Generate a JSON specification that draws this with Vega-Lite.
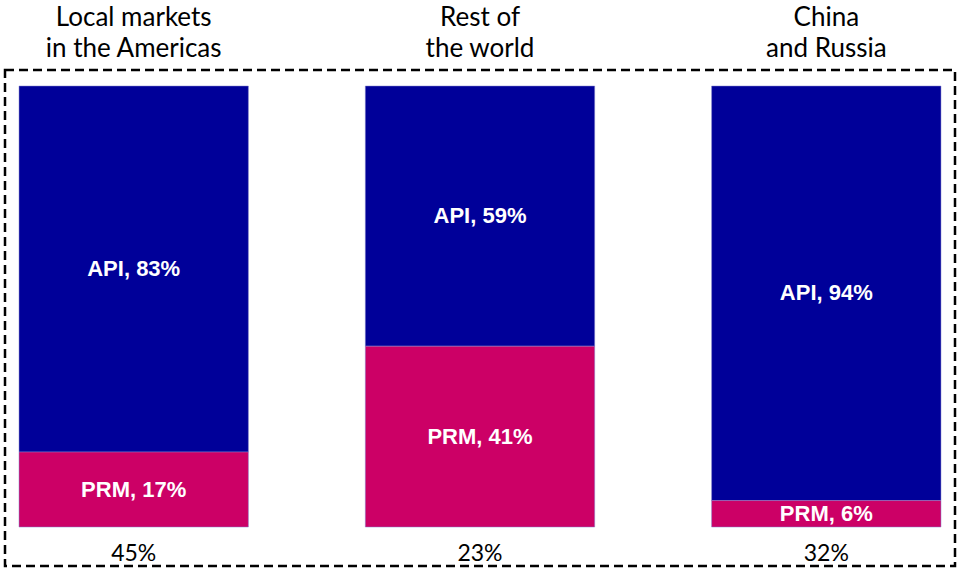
{
  "$schema": "https://vega.github.io/schema/vega-lite/v6.json",
  "width": 950,
  "height": 496,
  "autosize": {"type": "none"},
  "padding": {"left": 5, "top": 70, "right": 2, "bottom": 3},
  "background": "white",
  "config": {
    "view": {"stroke": "black", "strokeWidth": 2.5, "strokeDash": [9, 5]}
  },
  "datasets": {
    "segments": [
      {"region": "Local markets in the Americas", "type": "API", "value": 83},
      {"region": "Local markets in the Americas", "type": "PRM", "value": 17},
      {"region": "Rest of the world", "type": "API", "value": 59},
      {"region": "Rest of the world", "type": "PRM", "value": 41},
      {"region": "China and Russia", "type": "API", "value": 94},
      {"region": "China and Russia", "type": "PRM", "value": 6}
    ],
    "regions": [
      {"region": "Local markets in the Americas", "title": "Local markets\nin the Americas", "share": "45%"},
      {"region": "Rest of the world", "title": "Rest of\nthe world", "share": "23%"},
      {"region": "China and Russia", "title": "China\nand Russia", "share": "32%"}
    ]
  },
  "encoding": {
    "x": {
      "field": "region",
      "type": "nominal",
      "sort": ["Local markets in the Americas", "Rest of the world", "China and Russia"],
      "scale": {"paddingInner": 0.3377, "paddingOuter": 0.0405},
      "axis": null
    }
  },
  "layer": [
    {
      "data": {"name": "segments"},
      "transform": [
        {"stack": "value", "groupby": ["region"], "sort": [{"field": "type", "order": "descending"}], "as": ["y0", "y1"]},
        {"calculate": "(datum.y0 + datum.y1) / 2", "as": "ymid"},
        {"calculate": "datum.type + ', ' + datum.value + '%'", "as": "label"}
      ],
      "layer": [
        {
          "mark": {"type": "bar", "stroke": "#8080cc", "strokeWidth": 0.5},
          "encoding": {
            "y": {"field": "y0", "type": "quantitative", "scale": {"domain": [-8.84, 103.63], "nice": false, "zero": false}, "axis": null},
            "y2": {"field": "y1"},
            "color": {"field": "type", "type": "nominal", "scale": {"domain": ["API", "PRM"], "range": ["#000099", "#CC0066"]}, "legend": null}
          }
        },
        {
          "mark": {"type": "text", "color": "white", "font": "Liberation Sans", "fontWeight": "bold", "fontSize": 22, "baseline": "middle"},
          "encoding": {
            "y": {"field": "ymid", "type": "quantitative"},
            "text": {"field": "label"}
          }
        }
      ]
    },
    {
      "data": {"name": "regions"},
      "mark": {"type": "text", "font": "Lato", "fontSize": 26, "color": "black", "lineBreak": "\n", "lineHeight": 31, "baseline": "middle"},
      "encoding": {
        "y": {"datum": 115.4},
        "text": {"field": "title"}
      }
    },
    {
      "data": {"name": "regions"},
      "mark": {"type": "text", "font": "Lato", "fontSize": 23, "color": "black", "baseline": "middle"},
      "encoding": {
        "y": {"datum": -6.2},
        "text": {"field": "share"}
      }
    }
  ]
}
